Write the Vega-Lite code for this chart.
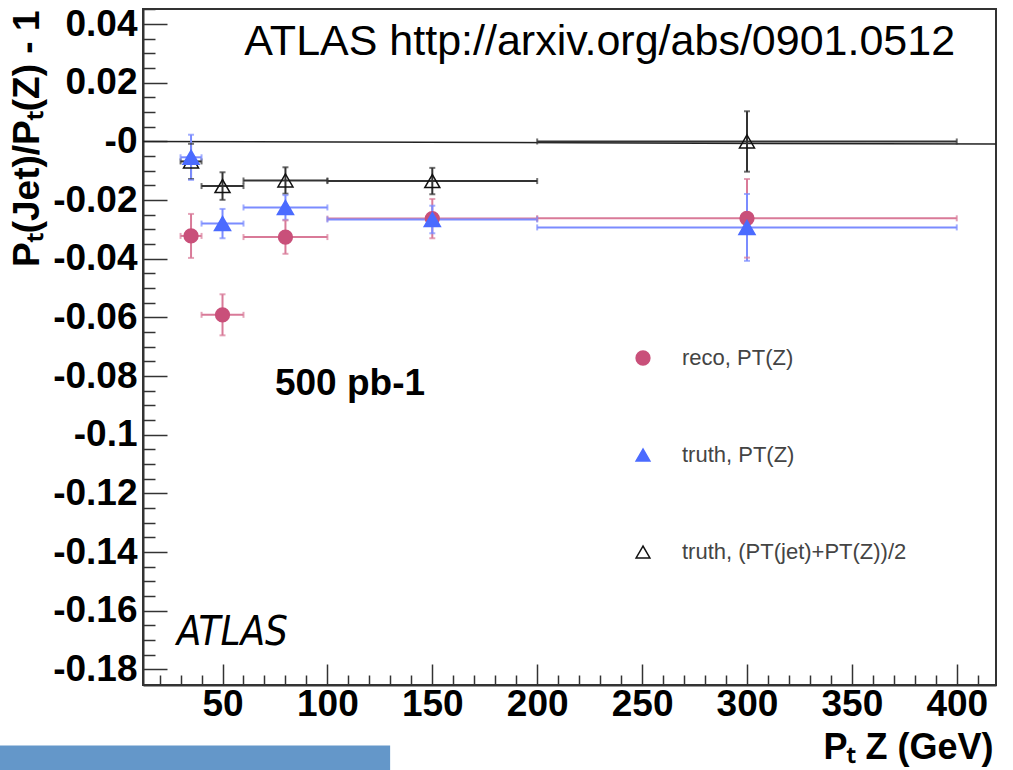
{
  "$schema": "https://vega.github.io/schema/vega-lite/v6.json",
  "width": 853,
  "height": 676,
  "autosize": "none",
  "padding": {"left": 143, "top": 9, "right": 17, "bottom": 85},
  "background": "white",
  "config": {
    "view": {"stroke": "#333", "strokeWidth": 2},
    "font": "Liberation Sans"
  },
  "datasets": {
    "points": [
      {"series": "reco, PT(Z)", "x": 35, "xlo": 30, "xhi": 40, "y": -0.0322, "ylo": -0.0397, "yhi": -0.0247},
      {"series": "reco, PT(Z)", "x": 50, "xlo": 40, "xhi": 60, "y": -0.0591, "ylo": -0.0661, "yhi": -0.0521},
      {"series": "reco, PT(Z)", "x": 80, "xlo": 60, "xhi": 100, "y": -0.0326, "ylo": -0.0383, "yhi": -0.0269},
      {"series": "reco, PT(Z)", "x": 150, "xlo": 100, "xhi": 200, "y": -0.0263, "ylo": -0.033, "yhi": -0.0196},
      {"series": "reco, PT(Z)", "x": 300, "xlo": 200, "xhi": 400, "y": -0.0262, "ylo": -0.0396, "yhi": -0.0128},
      {"series": "truth, (PT(jet)+PT(Z))/2", "x": 35, "xlo": 30, "xhi": 40, "y": -0.0068, "ylo": -0.0128, "yhi": -0.0008},
      {"series": "truth, (PT(jet)+PT(Z))/2", "x": 50, "xlo": 40, "xhi": 60, "y": -0.0152, "ylo": -0.0199, "yhi": -0.0105},
      {"series": "truth, (PT(jet)+PT(Z))/2", "x": 80, "xlo": 60, "xhi": 100, "y": -0.0133, "ylo": -0.0178, "yhi": -0.0088},
      {"series": "truth, (PT(jet)+PT(Z))/2", "x": 150, "xlo": 100, "xhi": 200, "y": -0.0135, "ylo": -0.018, "yhi": -0.009},
      {"series": "truth, (PT(jet)+PT(Z))/2", "x": 300, "xlo": 200, "xhi": 400, "y": 0.0, "ylo": -0.0103, "yhi": 0.0103},
      {"series": "truth, PT(Z)", "x": 35, "xlo": 30, "xhi": 40, "y": -0.0054, "ylo": -0.0131, "yhi": 0.0023},
      {"series": "truth, PT(Z)", "x": 50, "xlo": 40, "xhi": 60, "y": -0.028, "ylo": -0.033, "yhi": -0.023},
      {"series": "truth, PT(Z)", "x": 80, "xlo": 60, "xhi": 100, "y": -0.0225, "ylo": -0.0267, "yhi": -0.0183},
      {"series": "truth, PT(Z)", "x": 150, "xlo": 100, "xhi": 200, "y": -0.0266, "ylo": -0.0313, "yhi": -0.0219},
      {"series": "truth, PT(Z)", "x": 300, "xlo": 200, "xhi": 400, "y": -0.0293, "ylo": -0.0407, "yhi": -0.0179}
    ],
    "zero": [{"x": 12.1, "y": 0.0}, {"x": 418.7, "y": -0.0009}]
  },
  "layer": [
    {
      "data": {"name": "zero"},
      "mark": {"type": "line", "color": "#222", "strokeWidth": 1.5},
      "encoding": {
        "x": {
          "field": "x", "type": "quantitative",
          "scale": {"domain": [12.1, 418.7], "nice": false, "zero": false},
          "axis": {
            "orient": "bottom",
            "values": [50, 100, 150, 200, 250, 300, 350, 400],
            "grid": false,
            "domain": true, "domainColor": "#333", "domainWidth": 2,
            "ticks": true, "tickSize": -21, "tickColor": "#333", "tickWidth": 1.5,
            "labelPadding": 22,
            "labelFont": "Liberation Sans", "labelFontWeight": "bold", "labelFontSize": 37, "labelColor": "black",
            "labelFlush": false, "labelOverlap": false,
            "title": "Pₜ Z (GeV)",
            "titleFont": "Liberation Sans", "titleFontWeight": "bold", "titleFontSize": 36, "titleColor": "black",
            "titleAnchor": null, "titleAlign": "right", "titleBaseline": "alphabetic",
            "titleX": 850, "titleY": 73
          }
        },
        "y": {
          "field": "y", "type": "quantitative",
          "scale": {"domain": [-0.1853, 0.04516], "nice": false, "zero": false},
          "axis": {
            "orient": "left",
            "values": [0.04, 0.02, 0, -0.02, -0.04, -0.06, -0.08, -0.1, -0.12, -0.14, -0.16, -0.18],
            "grid": false,
            "domain": true, "domainColor": "#333", "domainWidth": 2,
            "ticks": true, "tickSize": -24, "tickColor": "#333", "tickWidth": 1.5,
            "labelPadding": 30,
            "labelExpr": "datum.value == 0 ? '-0' : replace(format(datum.value, '.2~f'), '−', '-')",
            "labelFont": "Liberation Sans", "labelFontWeight": "bold", "labelFontSize": 37, "labelColor": "black",
            "labelFlush": false, "labelOverlap": false,
            "title": "Pₜ(Jet)/Pₜ(Z) - 1",
            "titleFont": "Liberation Sans", "titleFontWeight": "bold", "titleFontSize": 37, "titleColor": "black",
            "titleAnchor": null, "titleAngle": 270, "titleAlign": "right", "titleBaseline": "alphabetic",
            "titleX": -105, "titleY": 1
          }
        }
      }
    },
    {
      "data": {"name": "points"},
      "mark": {"type": "rule", "strokeWidth": 2},
      "encoding": {
        "x": {
          "field": "xlo", "type": "quantitative",
          "scale": {"domain": [12.1, 418.7], "nice": false, "zero": false},
          "axis": {
            "orient": "bottom",
            "values": [20, 30, 40, 60, 70, 80, 90, 110, 120, 130, 140, 160, 170, 180, 190, 210, 220, 230, 240, 260, 270, 280, 290, 310, 320, 330, 340, 360, 370, 380, 390, 410],
            "grid": false, "domain": false, "labels": false,
            "ticks": true, "tickSize": -10, "tickColor": "#333", "tickWidth": 1.5,
            "title": null
          }
        },
        "x2": {"field": "xhi"},
        "y": {
          "field": "y", "type": "quantitative",
          "scale": {"domain": [-0.1853, 0.04516], "nice": false, "zero": false},
          "axis": {
            "orient": "left",
            "values": [0.045, 0.035, 0.03, 0.025, 0.015, 0.01, 0.005, -0.005, -0.01, -0.015, -0.025, -0.03, -0.035, -0.045, -0.05, -0.055, -0.065, -0.07, -0.075, -0.085, -0.09, -0.095, -0.105, -0.11, -0.115, -0.125, -0.13, -0.135, -0.145, -0.15, -0.155, -0.165, -0.17, -0.175],
            "grid": false, "domain": false, "labels": false,
            "ticks": true, "tickSize": -12, "tickColor": "#333", "tickWidth": 1.5,
            "title": null
          }
        },
        "color": {
          "field": "series", "type": "nominal",
          "scale": {"range": ["#d97a98", "#333333", "#7b8cff"]},
          "legend": null
        }
      }
    },
    {
      "data": {"name": "points"},
      "mark": {"type": "rule", "strokeWidth": 2},
      "encoding": {
        "x": {"field": "x", "type": "quantitative", "axis": null},
        "y": {"field": "ylo", "type": "quantitative", "axis": null},
        "y2": {"field": "yhi"},
        "color": {"field": "series", "type": "nominal", "legend": null}
      }
    },
    {
      "data": {"name": "points"},
      "layer": [
        {"mark": {"type": "tick", "orient": "vertical", "size": 6, "thickness": 2}, "encoding": {"x": {"field": "xlo", "type": "quantitative", "axis": null}}},
        {"mark": {"type": "tick", "orient": "vertical", "size": 6, "thickness": 2}, "encoding": {"x": {"field": "xhi", "type": "quantitative", "axis": null}}}
      ],
      "encoding": {
        "y": {"field": "y", "type": "quantitative", "axis": null},
        "color": {"field": "series", "type": "nominal", "legend": null}
      }
    },
    {
      "data": {"name": "points"},
      "layer": [
        {"mark": {"type": "tick", "orient": "horizontal", "size": 6, "thickness": 2}, "encoding": {"y": {"field": "ylo", "type": "quantitative", "axis": null}}},
        {"mark": {"type": "tick", "orient": "horizontal", "size": 6, "thickness": 2}, "encoding": {"y": {"field": "yhi", "type": "quantitative", "axis": null}}}
      ],
      "encoding": {
        "x": {"field": "x", "type": "quantitative", "axis": null},
        "color": {"field": "series", "type": "nominal", "legend": null}
      }
    },
    {
      "data": {"name": "points"},
      "mark": {"type": "point", "strokeWidth": 1.5, "opacity": 1},
      "encoding": {
        "x": {"field": "x", "type": "quantitative", "axis": null},
        "y": {"field": "y", "type": "quantitative", "axis": null},
        "size": {
          "field": "series", "type": "ordinal",
          "scale": {"range": [190, 260, 250]},
          "legend": null
        },
        "shape": {
          "field": "series", "type": "nominal",
          "scale": {"domain": ["reco, PT(Z)", "truth, PT(Z)", "truth, (PT(jet)+PT(Z))/2"], "range": ["circle", "triangle-up", "triangle-up"]},
          "legend": {"title": null, "orient": "none", "legendX": 489, "legendY": 338, "padding": 0, "rowPadding": 75, "symbolSize": 190, "symbolStrokeWidth": 1.5, "labelFont": "Liberation Sans", "labelFontSize": 22, "labelColor": "#444", "labelOffset": 28, "labelLimit": 400}
        },
        "fill": {
          "field": "series", "type": "nominal",
          "scale": {"domain": ["reco, PT(Z)", "truth, PT(Z)", "truth, (PT(jet)+PT(Z))/2"], "range": ["#c9507a", "#4b6bff", "transparent"]},
          "legend": {"title": null, "orient": "none", "legendX": 489, "legendY": 338, "padding": 0, "rowPadding": 75, "symbolSize": 190, "symbolStrokeWidth": 1.5, "labelFont": "Liberation Sans", "labelFontSize": 22, "labelColor": "#444", "labelOffset": 28, "labelLimit": 400}
        },
        "stroke": {
          "field": "series", "type": "nominal",
          "scale": {"domain": ["reco, PT(Z)", "truth, PT(Z)", "truth, (PT(jet)+PT(Z))/2"], "range": ["#c9507a", "#4b6bff", "#111111"]},
          "legend": {"title": null, "orient": "none", "legendX": 489, "legendY": 338, "padding": 0, "rowPadding": 75, "symbolSize": 190, "symbolStrokeWidth": 1.5, "labelFont": "Liberation Sans", "labelFontSize": 22, "labelColor": "#444", "labelOffset": 28, "labelLimit": 400}
        }
      }
    },
    {
      "data": {"values": [{"x": 399.2, "y": 0.0295, "label": "ATLAS http://arxiv.org/abs/0901.0512"}]},
      "mark": {"type": "text", "align": "right", "baseline": "alphabetic", "font": "Liberation Sans", "fontSize": 43, "color": "black"},
      "encoding": {
        "x": {"field": "x", "type": "quantitative", "axis": null},
        "y": {"field": "y", "type": "quantitative", "axis": null},
        "text": {"field": "label"}
      }
    },
    {
      "data": {"values": [{"x": 75, "y": -0.0864, "label": "500 pb-1"}]},
      "mark": {"type": "text", "align": "left", "baseline": "alphabetic", "font": "Liberation Sans", "fontWeight": "bold", "fontSize": 37, "color": "black"},
      "encoding": {
        "x": {"field": "x", "type": "quantitative", "axis": null},
        "y": {"field": "y", "type": "quantitative", "axis": null},
        "text": {"field": "label"}
      }
    },
    {
      "data": {"values": [{"x": 28.2, "y": -0.1717, "label": "ATLAS"}]},
      "mark": {"type": "text", "align": "left", "baseline": "alphabetic", "font": "DejaVu Sans Condensed", "fontStyle": "italic", "fontSize": 40, "color": "black"},
      "encoding": {
        "x": {"field": "x", "type": "quantitative", "axis": null},
        "y": {"field": "y", "type": "quantitative", "axis": null},
        "text": {"field": "label"}
      }
    },
    {
      "data": {"values": [{"x0": -56.1, "x1": 129.9, "y0": -0.2059, "y1": -0.2144}]},
      "mark": {"type": "rect", "color": "#6497c9", "clip": false},
      "encoding": {
        "x": {"field": "x0", "type": "quantitative", "axis": null},
        "x2": {"field": "x1"},
        "y": {"field": "y0", "type": "quantitative", "axis": null},
        "y2": {"field": "y1"}
      }
    }
  ],
  "resolve": {"axis": {"x": "independent", "y": "independent"}}
}
